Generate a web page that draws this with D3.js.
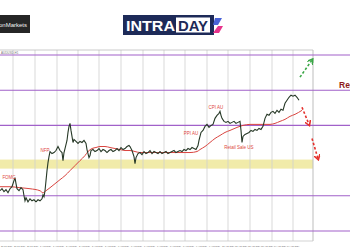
<!DOCTYPE html>
<html>
<head>
<meta charset="utf-8">
<script src="https://cdn.jsdelivr.net/npm/d3@7"></script>
<style>
  body { margin: 0; background: #fff; }
  svg { display: block; font-family: "Liberation Sans", Arial, sans-serif; }
</style>
</head>
<body>
<div id="chart"></div>
<script>
// chart is at the smallest zoom: one bar per pixel
const bars = [0,2,4,6,8,10,12,14,15,16,17,19,21,23,24,25,26,28,30,32,34,36,38,40,42,43,44,45,46,47,48,49,50,52,54,56,58,60,62,63,64,65,67,68,69,70,71,72,73,74,76,78,80,82,84,86,87,88,89,90,91,93,95,97,99,101,103,105,107,109,111,113,115,117,119,121,123,125,127,129,130,132,134,135,136,138,140,142,144,146,148,150,152,154,156,158,160,162,164,166,168,170,172,174,176,178,180,182,184,186,188,190,192,194,196,198,199,200,201,203,205,207,209,211,213,215,217,219,220,221,222,224,226,228,230,232,234,236,238,240,241,242,243,245,247,249,251,253,255,257,259,261,263,265,267,269,271,273,275,277,279,281,283,285,287,289,291,293,295,297,299]
const closes = [0.6490,0.6492,0.6489,0.6491,0.6488,0.6492,0.6494,0.6500,0.6503,0.6497,0.6492,0.6490,0.6493,0.6491,0.6485,0.6480,0.6483,0.6479,0.6482,0.6480,0.6481,0.6479,0.6481,0.6480,0.6482,0.6486,0.6484,0.6490,0.6500,0.6510,0.6518,0.6524,0.6529,0.6527,0.6528,0.6530,0.6534,0.6530,0.6528,0.6520,0.6528,0.6532,0.6540,0.6548,0.6554,0.6557,0.6550,0.6544,0.6538,0.6541,0.6539,0.6537,0.6539,0.6538,0.6540,0.6537,0.6531,0.6527,0.6523,0.6525,0.6530,0.6531,0.6529,0.6530,0.6532,0.6529,0.6531,0.6530,0.6528,0.6530,0.6531,0.6529,0.6530,0.6532,0.6530,0.6533,0.6531,0.6532,0.6534,0.6535,0.6534,0.6530,0.6524,0.6517,0.6523,0.6527,0.6528,0.6526,0.6529,0.6527,0.6528,0.6530,0.6527,0.6529,0.6528,0.6527,0.6529,0.6527,0.6528,0.6529,0.6527,0.6528,0.6529,0.6530,0.6528,0.6529,0.6530,0.6529,0.6531,0.6530,0.6532,0.6531,0.6533,0.6532,0.6531,0.6535,0.6540,0.6544,0.6548,0.6550,0.6554,0.6556,0.6553,0.6555,0.6556,0.6562,0.6565,0.6567,0.6569,0.6565,0.6562,0.6559,0.6558,0.6559,0.6557,0.6558,0.6559,0.6557,0.6558,0.6559,0.6550,0.6538,0.6544,0.6546,0.6547,0.6548,0.6550,0.6549,0.6551,0.6550,0.6552,0.6551,0.6554,0.6562,0.6566,0.6565,0.6568,0.6569,0.6567,0.6570,0.6568,0.6571,0.6570,0.6577,0.6580,0.6583,0.6585,0.6584,0.6585,0.6583,0.6580]

// moving average
const maBars = [0,10,20,30,40,43,46,50,55,60,65,70,75,80,85,88,92,96,100,105,110,115,120,125,130,135,140,150,160,170,180,190,197,200,205,210,215,220,225,230,237,243,250,260,270,275,280,285,290,295,302]
const maValues = [0.6494,0.6494,0.6493,0.6492,0.6490,0.6488,0.6490,0.6493,0.6497,0.6501,0.6505,0.6510,0.6515,0.6520,0.6525,0.6529,0.6532,0.6533,0.6534,0.6534,0.6533,0.6532,0.6531,0.6530,0.6530,0.6529,0.6528,0.6528,0.6528,0.6528,0.6528,0.6528,0.6529,0.6531,0.6534,0.6538,0.6542,0.6545,0.6548,0.6550,0.6553,0.6555,0.6556,0.6556,0.6556,0.6557,0.6559,0.6561,0.6564,0.6566,0.6570]

const levels = [0.6625, 0.6590, 0.6555, 0.6485, 0.6450]
const zone = [0.6512, 0.6521]

const gridBars = [13, 35, 57, 78, 99, 121, 143, 164, 185, 207, 228, 250, 272, 293]
const dateBars = [0, 13, 26, 39, 52, 65, 78, 91, 104, 117, 130, 143, 156, 169, 182, 195, 208, 221, 234, 247, 260, 273, 286]
const dateLabels = ["30 Jul 2024","31 Jul 2024","31 Jul 2024","1 Aug 2024","1 Aug 2024","2 Aug 2024","2 Aug 2024","5 Aug 2024","5 Aug 2024","6 Aug 2024","6 Aug 2024","7 Aug 2024","7 Aug 2024","8 Aug 2024","8 Aug 2024","9 Aug 2024","9 Aug 2024","12 Aug 2024","12 Aug 2024","13 Aug 2024","13 Aug 2024","14 Aug 2024","14 Aug 2024"]

const eventNames = ["FOMC", "NFP", "PPI AU", "CPI AU", "Retail Sale US"]
const eventBars = [9, 45, 191, 216, 239]
const eventPrices = [0.6502, 0.6529, 0.6545, 0.6571, 0.6532]

const arrowFrom = [[300, 0.6603], [302, 0.6573], [312, 0.6542]]
const arrowTo = [[312, 0.6620], [309, 0.6556], [318, 0.6522]]

const W = 350, H = 250
const plot = { left: 0, right: 313, top: 50, bottom: 241 }

const svg = d3.select("#chart").append("svg")
    .attr("width", W)
    .attr("height", H)

svg.append("rect").attr("width", W).attr("height", H).attr("fill", "#fff")

const x = d3.scaleLinear().domain([0, 313]).range([plot.left, plot.right])
const y = d3.scaleLinear().domain([0.6440, 0.6630]).range([241, 50])

// ---- header logos ----
const logo1 = svg.append("g")
logo1.append("rect").attr("x", 0).attr("y", 15).attr("width", 30).attr("height", 18).attr("fill", "#262626")
logo1.append("text").attr("x", 27).attr("y", 26.5).attr("text-anchor", "end")
    .attr("fill", "#f2f2f2").style("font-size", "6px").text("onMarkets")

const logo2 = svg.append("g")
logo2.append("rect").attr("x", 123).attr("y", 15).attr("width", 91).attr("height", 20).attr("fill", "#1d2a58")
logo2.append("rect").attr("x", 176).attr("y", 17.5).attr("width", 34).attr("height", 15).attr("fill", "#fff")
logo2.append("text").attr("x", 126).attr("y", 31).attr("fill", "#fff")
    .attr("textLength", 49).attr("lengthAdjust", "spacingAndGlyphs")
    .style("font-size", "15px").style("font-weight", "bold").text("INTRA")
logo2.append("text").attr("x", 178).attr("y", 31).attr("fill", "#1d2a58")
    .attr("textLength", 30).attr("lengthAdjust", "spacingAndGlyphs")
    .style("font-size", "15px").style("font-weight", "bold").text("DAY")
logo2.append("path").attr("d", "M215,18 L222,18 L218,25 L213,25 Z").attr("fill", "#4a63d8")
logo2.append("path").attr("d", "M218,26 L223,26 L219,33 L213,33 Z").attr("fill", "#e8348c")

// ---- plot frame ----
const chart = svg.append("g")

chart.append("rect")
    .attr("x", plot.left).attr("width", plot.right - plot.left)
    .attr("y", y(zone[1])).attr("height", y(zone[0]) - y(zone[1]))
    .attr("fill", "#f1eba9")

chart.selectAll(".vgrid").data(gridBars).join("line")
    .attr("class", "vgrid")
    .attr("x1", d => x(d)).attr("x2", d => x(d))
    .attr("y1", plot.top).attr("y2", plot.bottom)
    .attr("stroke", "#cfcfcf").attr("stroke-width", 0.8)

chart.append("line").attr("x1", plot.right).attr("x2", plot.right)
    .attr("y1", plot.top).attr("y2", plot.bottom).attr("stroke", "#bdbdbd")
chart.append("line").attr("x1", 0).attr("x2", plot.right)
    .attr("y1", plot.top).attr("y2", plot.top).attr("stroke", "#bdbdbd").attr("stroke-width", 0.8)
chart.append("line").attr("x1", 0).attr("x2", plot.right)
    .attr("y1", plot.bottom).attr("y2", plot.bottom).attr("stroke", "#c8c8c8").attr("stroke-width", 0.8)

chart.append("text").attr("x", 1).attr("y", 53.5).attr("fill", "#777")
    .style("font-size", "3px").text("AUDUSD,H1")

chart.selectAll(".level").data(levels).join("line")
    .attr("class", "level")
    .attr("x1", 0).attr("x2", W)
    .attr("y1", d => y(d)).attr("y2", d => y(d))
    .attr("stroke", "#a161c9").attr("stroke-width", 1.1)

// date labels along the bottom
chart.selectAll(".dlabel").data(dateLabels).join("text")
    .attr("class", "dlabel")
    .attr("x", (d, i) => x(dateBars[i]) + 1)
    .attr("y", 246.5)
    .attr("fill", "#666")
    .style("font-size", "2.2px")
    .text(d => d)

// ---- series ----
const maLine = d3.line().x((d, i) => x(maBars[i])).y(d => y(d)).curve(d3.curveMonotoneX)
chart.append("path").datum(maValues)
    .attr("d", maLine)
    .attr("fill", "none").attr("stroke", "#d9443f").attr("stroke-width", 1)

const priceLine = d3.line().x((d, i) => x(bars[i])).y(d => y(d))
chart.append("path").datum(closes)
    .attr("d", priceLine)
    .attr("fill", "none").attr("stroke", "#263826").attr("stroke-width", 1.1)

chart.selectAll(".event").data(eventNames).join("text")
    .attr("class", "event")
    .attr("x", (d, i) => x(eventBars[i]))
    .attr("y", (d, i) => y(eventPrices[i]))
    .attr("text-anchor", "middle")
    .attr("fill", "#e0463c")
    .style("font-size", "4.5px")
    .text(d => d)

// ---- arrows ----
const defs = svg.append("defs")
;[["up", "#3aa646"], ["down", "#e5302c"]].forEach(([k, c]) => {
    defs.append("marker").attr("id", "head-" + k)
        .attr("viewBox", "0 0 10 10").attr("refX", 6).attr("refY", 5)
        .attr("markerWidth", 4).attr("markerHeight", 4).attr("orient", "auto")
        .append("path").attr("d", "M0,0 L8,5 L0,10").attr("fill", "none")
        .attr("stroke", c).attr("stroke-width", 2.5)
})

chart.selectAll(".arrow").data(arrowFrom).join("line")
    .attr("class", "arrow")
    .attr("x1", d => x(d[0])).attr("y1", d => y(d[1]))
    .attr("x2", (d, i) => x(arrowTo[i][0])).attr("y2", (d, i) => y(arrowTo[i][1]))
    .attr("stroke", (d, i) => arrowTo[i][1] > d[1] ? "#3aa646" : "#e5302c")
    .attr("stroke-width", 1.6)
    .attr("stroke-dasharray", "2.5,2")
    .attr("marker-end", (d, i) => arrowTo[i][1] > d[1] ? "url(#head-up)" : "url(#head-down)")

svg.append("text").attr("x", 339).attr("y", y(0.6590) - 2)
    .attr("fill", "#8e1b1b").style("font-size", "8.5px").style("font-weight", "bold")
    .text("Resistance")
</script>
</body>
</html>
